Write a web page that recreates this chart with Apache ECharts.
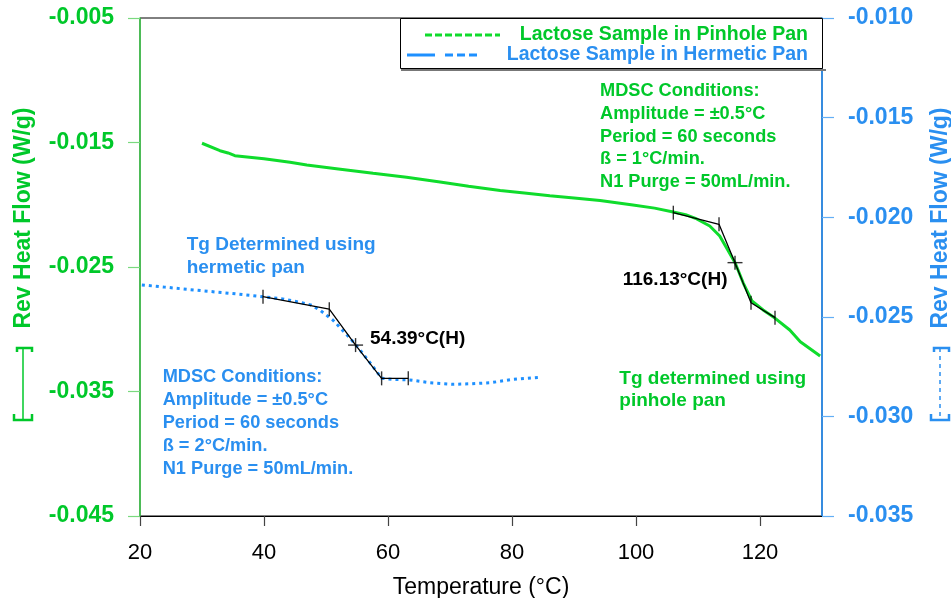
<!DOCTYPE html>
<html>
<head>
<meta charset="utf-8">
<script src="https://cdn.jsdelivr.net/npm/echarts@6/dist/echarts.min.js"></script>
<style>html,body{margin:0;padding:0;background:#fff;}#c{width:951px;height:598px;}</style>
</head>
<body>
<div id="c"></div>
<script>
// ---- data ----
const xTicks = [20, 40, 60, 80, 100, 120];
const leftTicks = [-0.045, -0.035, -0.025, -0.015, -0.005];
const rightTicks = [-0.035, -0.030, -0.025, -0.020, -0.015, -0.010];

const pinholeT = [30.0, 32.9, 34.2, 35.3, 40.0, 44.2, 46.9, 52.0, 57.6, 63.0, 68.4, 73.0, 78.1, 82.0, 86.1, 90.0, 94.2, 99.5, 103.0, 106.0, 108.0, 109.8, 111.9, 113.5, 114.8, 116.0, 117.3, 118.7, 120.5, 122.4, 124.8, 126.5, 129.7];
const pinholeV = [-0.01506, -0.01566, -0.01584, -0.01606, -0.01630, -0.01659, -0.01681, -0.01712, -0.01747, -0.01780, -0.01817, -0.01852, -0.01885, -0.01905, -0.01927, -0.01945, -0.01966, -0.02002, -0.02027, -0.02058, -0.02080, -0.02114, -0.02171, -0.02251, -0.02363, -0.02468, -0.02629, -0.02773, -0.02845, -0.02910, -0.03006, -0.03100, -0.03215];

const hermeticT = [20.3, 24.0, 27.5, 31.0, 34.5, 39.8, 43.0, 45.3, 47.5, 49.0, 51.1, 53.9, 55.5, 57.6, 59.0, 61.0, 63.5, 66.8, 70.5, 73.5, 76.5, 80.2, 84.5];
const hermeticV = [-0.02340, -0.02351, -0.02362, -0.02372, -0.02382, -0.02399, -0.02410, -0.02424, -0.02440, -0.02466, -0.02516, -0.02608, -0.02667, -0.02751, -0.02809, -0.02814, -0.02817, -0.02831, -0.02839, -0.02836, -0.02831, -0.02814, -0.02804];

// Tg construction (onset, tangent, midpoint, tangent, end)
const pinholeTgT = [106.02, 113.39, 115.97, 118.55, 122.42];
const pinholeTgV = [-0.02064, -0.02157, -0.02465, -0.02787, -0.02907];
const hermeticTgT = [39.84, 50.53, 54.77, 58.97, 63.27];
const hermeticTgV = [-0.02399, -0.02462, -0.02642, -0.02809, -0.02809];

const legendNames = ['Lactose Sample in Pinhole Pan', 'Lactose Sample in Hermetic Pan'];
const axisTitle = 'Rev Heat Flow (W/g)';
const xTitle = 'Temperature (°C)';
const pinholeNote = 'MDSC Conditions:\nAmplitude = ±0.5°C\nPeriod = 60 seconds\nß = 1°C/min.\nN1 Purge = 50mL/min.';
const hermeticNote = 'MDSC Conditions:\nAmplitude = ±0.5°C\nPeriod = 60 seconds\nß = 2°C/min.\nN1 Purge = 50mL/min.';
const pinholeTgNote = 'Tg determined using\npinhole pan';
const hermeticTgNote = 'Tg Determined using\nhermetic pan';
const pinholeTgLabel = '116.13°C(H)';
const hermeticTgLabel = '54.39°C(H)';

// ---- styles ----
const GREEN = '#0fdc2c';
const GREEN_TXT = '#00c82a';
const BLUE = '#1e90ff';
const BLUE_TXT = '#2a8ff0';
const FONT = '"Liberation Sans", Arial, sans-serif';

const zip = (a, b) => a.map((v, i) => [v, b[i]]);
const pick = (a, b, idx) => idx.map(i => [a[i], b[i]]);

const chart = echarts.init(document.getElementById('c'), null, {renderer: 'canvas'});

function tickSeries(yIdx, data, size) {
  return {
    type: 'scatter', yAxisIndex: yIdx, data: data, symbol: 'rect', symbolSize: size,
    itemStyle: {color: '#000'}, silent: true, z: 6
  };
}

const option = {
  animation: false,
  backgroundColor: '#fff',
  textStyle: {fontFamily: FONT},
  grid: {left: 140, right: 129, top: 18, bottom: 82, containLabel: false, outerBoundsMode: 'none', show: true, borderColor: '#000', borderWidth: 1, backgroundColor: 'transparent'},
  xAxis: {
    type: 'value', min: 20, max: 130,
    axisLine: {show: true, lineStyle: {color: '#000', width: 1.2}},
    axisTick: {show: true, length: 10, customValues: xTicks, lineStyle: {color: '#444', width: 1.2}},
    axisLabel: {customValues: xTicks, fontSize: 22, color: '#000', margin: 26, fontFamily: FONT},
    splitLine: {show: false},
    name: xTitle, nameLocation: 'middle', nameGap: 60,
    nameTextStyle: {fontSize: 23, color: '#000', fontFamily: FONT}
  },
  yAxis: [
    {
      type: 'value', position: 'left', min: -0.045, max: -0.005,
      axisLine: {show: true, lineStyle: {color: '#3ccf4a', width: 1.5}},
      axisTick: {show: true, length: 12, customValues: leftTicks, lineStyle: {color: '#7ad97f', width: 1.2}},
      axisLabel: {customValues: leftTicks, formatter: v => v.toFixed(3), fontSize: 23, fontWeight: 'bold', color: GREEN_TXT, margin: 26, padding: [6, 0, 0, 0], fontFamily: FONT},
      splitLine: {show: false}
    },
    {
      type: 'value', position: 'right', min: -0.035, max: -0.010,
      axisLine: {show: true, lineStyle: {color: BLUE, width: 1.5}},
      axisTick: {show: true, length: 12, customValues: rightTicks, lineStyle: {color: '#62aef5', width: 1.2}},
      axisLabel: {customValues: rightTicks, formatter: v => v.toFixed(3), fontSize: 23, fontWeight: 'bold', color: BLUE_TXT, margin: 26, padding: [6, 0, 0, 0], fontFamily: FONT},
      splitLine: {show: false}
    }
  ],
  series: [
    {type: 'line', yAxisIndex: 0, data: zip(pinholeT, pinholeV), showSymbol: false, lineStyle: {color: GREEN, width: 3}, z: 3},
    {type: 'line', yAxisIndex: 1, data: zip(hermeticT, hermeticV), showSymbol: false, lineStyle: {color: BLUE, width: 3, type: [3, 4]}, z: 3},
    {type: 'line', yAxisIndex: 0, data: zip(pinholeTgT, pinholeTgV), showSymbol: false, lineStyle: {color: '#000', width: 1.3}, z: 5},
    {type: 'line', yAxisIndex: 1, data: zip(hermeticTgT, hermeticTgV), showSymbol: false, lineStyle: {color: '#000', width: 1.3}, z: 5},
    tickSeries(0, pick(pinholeTgT, pinholeTgV, [0, 1, 2, 3, 4]), [1.4, 14]),
    tickSeries(0, pick(pinholeTgT, pinholeTgV, [2]), [15, 1.4]),
    tickSeries(1, pick(hermeticTgT, hermeticTgV, [0, 1, 2, 3, 4]), [1.4, 14]),
    tickSeries(1, pick(hermeticTgT, hermeticTgV, [2]), [15, 1.4])
  ],
  graphic: [
    // legend box
    {type: 'rect', shape: {x: 400.5, y: 18.5, width: 422, height: 50}, style: {fill: '#fff', stroke: '#000', lineWidth: 1}, z: 10},
    {type: 'line', shape: {x1: 401, y1: 70, x2: 826, y2: 70}, style: {stroke: '#777', lineWidth: 2}, z: 10},
    {type: 'line', shape: {x1: 425, y1: 35, x2: 500, y2: 35}, style: {stroke: GREEN, lineWidth: 3, lineDash: [7, 3]}, z: 11},
    {type: 'line', shape: {x1: 407, y1: 55, x2: 435, y2: 55}, style: {stroke: BLUE, lineWidth: 3}, z: 11},
    {type: 'line', shape: {x1: 445, y1: 55, x2: 477, y2: 55}, style: {stroke: BLUE, lineWidth: 3, lineDash: [8, 4]}, z: 11},
    {type: 'text', x: 808, y: 35, style: {text: legendNames[0], fill: GREEN_TXT, font: 'bold 19.5px ' + FONT, align: 'right', verticalAlign: 'middle'}, z: 11},
    {type: 'text', x: 808, y: 55, style: {text: legendNames[1], fill: BLUE_TXT, font: 'bold 19.5px ' + FONT, align: 'right', verticalAlign: 'middle'}, z: 11},
    // left axis title + glyph
    {type: 'text', x: 24, y: 218, rotation: Math.PI / 2, style: {text: axisTitle, fill: GREEN_TXT, font: 'bold 23px ' + FONT, align: 'center', verticalAlign: 'middle'}},
    {type: 'polyline', shape: {points: [[17, 352], [17, 348], [32, 348], [32, 352]]}, style: {stroke: GREEN_TXT, lineWidth: 2.5, fill: null}},
    {type: 'line', shape: {x1: 23, y1: 348, x2: 23, y2: 420}, style: {stroke: GREEN_TXT, lineWidth: 1.5}},
    {type: 'polyline', shape: {points: [[14, 414], [14, 420], [32, 420], [32, 414]]}, style: {stroke: GREEN_TXT, lineWidth: 2.5, fill: null}},
    // right axis title + glyph
    {type: 'text', x: 941, y: 218, rotation: Math.PI / 2, style: {text: axisTitle, fill: BLUE_TXT, font: 'bold 23px ' + FONT, align: 'center', verticalAlign: 'middle'}},
    {type: 'polyline', shape: {points: [[934, 352], [934, 348], [949, 348], [949, 352]]}, style: {stroke: BLUE_TXT, lineWidth: 2.5, fill: null}},
    {type: 'line', shape: {x1: 940, y1: 348, x2: 940, y2: 420}, style: {stroke: BLUE_TXT, lineWidth: 1.5, lineDash: [4, 4]}},
    {type: 'polyline', shape: {points: [[931, 414], [931, 420], [949, 420], [949, 414]]}, style: {stroke: BLUE_TXT, lineWidth: 2.5, fill: null}},
    // annotations
    {type: 'text', x: 600, y: 80, style: {text: pinholeNote, fill: GREEN_TXT, font: 'bold 18.2px ' + FONT, lineHeight: 22.7, verticalAlign: 'top'}},
    {type: 'text', x: 162.7, y: 365.6, style: {text: hermeticNote, fill: BLUE_TXT, font: 'bold 18.2px ' + FONT, lineHeight: 22.9, verticalAlign: 'top'}},
    {type: 'text', x: 186.7, y: 233.7, style: {text: hermeticTgNote, fill: BLUE_TXT, font: 'bold 19px ' + FONT, lineHeight: 22.6, verticalAlign: 'top'}},
    {type: 'text', x: 619.3, y: 367, style: {text: pinholeTgNote, fill: GREEN_TXT, font: 'bold 19px ' + FONT, lineHeight: 22.6, verticalAlign: 'top'}},
    {type: 'text', x: 370, y: 338.4, style: {text: hermeticTgLabel, fill: '#000', font: 'bold 19px ' + FONT, verticalAlign: 'middle'}},
    {type: 'text', x: 622.7, y: 280, style: {text: pinholeTgLabel, fill: '#000', font: 'bold 19px ' + FONT, verticalAlign: 'middle'}}
  ]
};
chart.setOption(option);
</script>
</body>
</html>
